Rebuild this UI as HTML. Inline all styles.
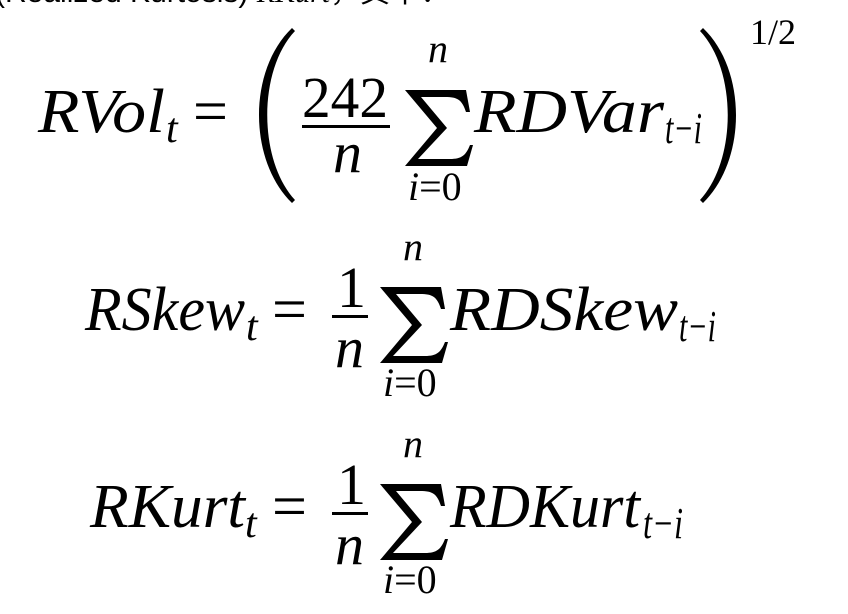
<!DOCTYPE html>
<html><head><meta charset="utf-8"><style>
html,body{margin:0;padding:0;background:#fff;width:848px;height:614px;overflow:hidden}
svg{display:block}
</style></head><body>
<svg width="848" height="614" viewBox="0 0 848 614" font-family="Liberation Serif, serif">
<text x="-5" y="2" font-size="30" font-family="Liberation Sans, Noto Sans CJK SC, sans-serif">(Realized Kurtosis) <tspan font-style="italic" font-family="Liberation Serif, serif">RKurt</tspan>，其中：</text>

<g font-family="Liberation Serif, serif">
<!-- Line 1 -->
<text font-style="italic" x="38" y="132" font-size="62" textLength="127" lengthAdjust="spacingAndGlyphs">RVol</text>
<text font-style="italic" x="166" y="142" font-size="42">t</text>
<text x="193" y="132" font-size="62">=</text>
<path d="M292,28 C248,70 248,160 292,203 L295,200 C258,160 258,70 295,31 Z"/>
<text x="302" y="117" font-size="58" textLength="86" lengthAdjust="spacingAndGlyphs">242</text>
<rect x="302" y="125" width="88" height="3"/>
<text font-style="italic" x="333" y="172" font-size="58">n</text>
<text font-style="italic" x="428" y="62" font-size="40">n</text>
<path d="M405,90 L466,90 L470,112 L466,112 C462,100 458,97 445,97 L421,97 L447,128 L418,159 L450,159 C462,159 466,155 470,145 L473,145 L467,166 L405,166 L437,128 Z"/>
<text x="408" y="200" font-size="40"><tspan font-style="italic">i</tspan>=0</text>
<text font-style="italic" x="474" y="132" font-size="62" textLength="190" lengthAdjust="spacingAndGlyphs">RDVar</text>
<text font-style="italic" x="665" y="143" font-size="44" textLength="37" lengthAdjust="spacingAndGlyphs">t−i</text>
<path d="M703,28 C747,70 747,160 703,203 L700,200 C737,160 737,70 700,31 Z"/>
<text x="750" y="44" font-size="36">1/2</text>

<!-- Line 2 -->
<text font-style="italic" x="85" y="330" font-size="62" textLength="160" lengthAdjust="spacingAndGlyphs">RSkew</text>
<text font-style="italic" x="246" y="340" font-size="42">t</text>
<text x="272" y="330" font-size="62">=</text>
<text x="337" y="307" font-size="58">1</text>
<rect x="332" y="315" width="36" height="3"/>
<text font-style="italic" x="335" y="367" font-size="58">n</text>
<text font-style="italic" x="403" y="260" font-size="40">n</text>
<path d="M380,287 L441,287 L445,309 L441,309 C437,297 433,294 420,294 L396,294 L422,325 L393,356 L425,356 C437,356 441,352 445,342 L448,342 L442,363 L380,363 L412,325 Z"/>
<text x="383" y="396" font-size="40"><tspan font-style="italic">i</tspan>=0</text>
<text font-style="italic" x="450" y="330" font-size="62" textLength="228" lengthAdjust="spacingAndGlyphs">RDSkew</text>
<text font-style="italic" x="679" y="341" font-size="44" textLength="37" lengthAdjust="spacingAndGlyphs">t−i</text>

<!-- Line 3 -->
<text font-style="italic" x="90" y="527" font-size="62" textLength="155" lengthAdjust="spacingAndGlyphs">RKurt</text>
<text font-style="italic" x="245" y="537" font-size="42">t</text>
<text x="272" y="527" font-size="62">=</text>
<text x="337" y="504" font-size="58">1</text>
<rect x="332" y="512" width="36" height="3"/>
<text font-style="italic" x="335" y="564" font-size="58">n</text>
<text font-style="italic" x="403" y="457" font-size="40">n</text>
<path d="M380,484 L441,484 L445,506 L441,506 C437,494 433,491 420,491 L396,491 L422,522 L393,553 L425,553 C437,553 441,549 445,539 L448,539 L442,560 L380,560 L412,522 Z"/>
<text x="383" y="593" font-size="40"><tspan font-style="italic">i</tspan>=0</text>
<text font-style="italic" x="450" y="527" font-size="62" textLength="190" lengthAdjust="spacingAndGlyphs">RDKurt</text>
<text font-style="italic" x="643" y="538" font-size="44" textLength="40" lengthAdjust="spacingAndGlyphs">t−i</text>
</g>
</svg>
</body></html>
